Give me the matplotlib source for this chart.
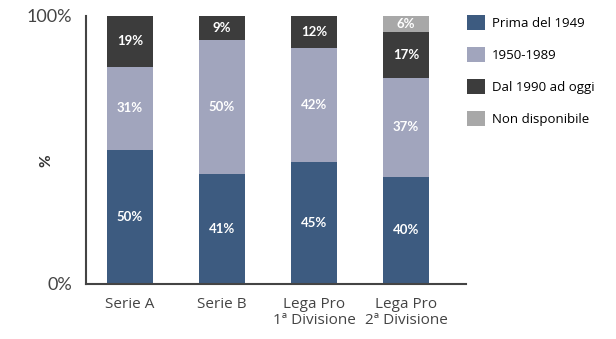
import numpy as np
import matplotlib.pyplot as plt
from matplotlib.patches import Patch

categories = ['Serie A', 'Serie B', 'Lega Pro\n1ª Divisione', 'Lega Pro\n2ª Divisione']
series = ['Prima del 1949', '1950-1989', 'Dal 1990 ad oggi', 'Non disponibile']
prima_1949 = [50, 41, 45.5, 40]
anni_50_89 = [31, 50, 42.5, 37]
dal_1990 = [19, 9, 12, 17]
non_disp = [0, 0, 0, 6]
colors = ['#3d5b80', '#a1a5bd', '#3c3c3c', '#a8a8a8']

fig = plt.figure(figsize=(6.16, 3.39), dpi=100)
ax = fig.add_axes([86 / 616, 55 / 339, 380 / 616, 268 / 339])

x = np.arange(len(categories))
bottom = np.zeros(len(categories))
for vals, col in zip([prima_1949, anni_50_89, dal_1990, non_disp], colors):
    vals = np.array(vals, dtype=float)
    ax.bar(x, vals, 0.5, bottom=bottom, color=col)
    for xi, b, v in zip(x, bottom, vals):
        if v > 0:
            ax.text(xi, b + v / 2, '%d%%' % int(v), ha='center', va='center',
                    color='white', fontsize=9.5, fontweight='bold', family='Lato')
    bottom += vals

ax.set_xlim(-0.478, 3.652)
ax.set_ylim(0, 100)
ax.set_yticks([0, 100])
ax.set_yticklabels(['0%', '100%'], fontsize=13, color='#444444', family='Lato')
ax.set_xticks(x)
ax.set_xticklabels(categories, fontsize=11, color='#444444', family='Open Sans',
                   linespacing=1.1)
ax.tick_params(axis='y', length=0, pad=10)
ax.tick_params(axis='x', length=0, pad=9)
ax.set_ylabel('%', fontsize=11, color='#333333', family='Lato', fontweight='bold')
ax.yaxis.set_label_coords(-0.085, 0.46)
for s in ['top', 'right']:
    ax.spines[s].set_visible(False)
for s in ['left', 'bottom']:
    ax.spines[s].set_color('#444444')
    ax.spines[s].set_linewidth(1.5)

handles = [Patch(facecolor=c, edgecolor='none') for c in colors]
fig.legend(handles, series, loc='upper left', bbox_to_anchor=(467 / 616, 1 - 15 / 339),
           frameon=False, handlelength=1.35, handleheight=1.35,
           labelspacing=1.3, handletextpad=0.55, borderpad=0, borderaxespad=0,
           prop={'family': 'Open Sans', 'size': 9.5})

fig.savefig('out.png', dpi=100)
